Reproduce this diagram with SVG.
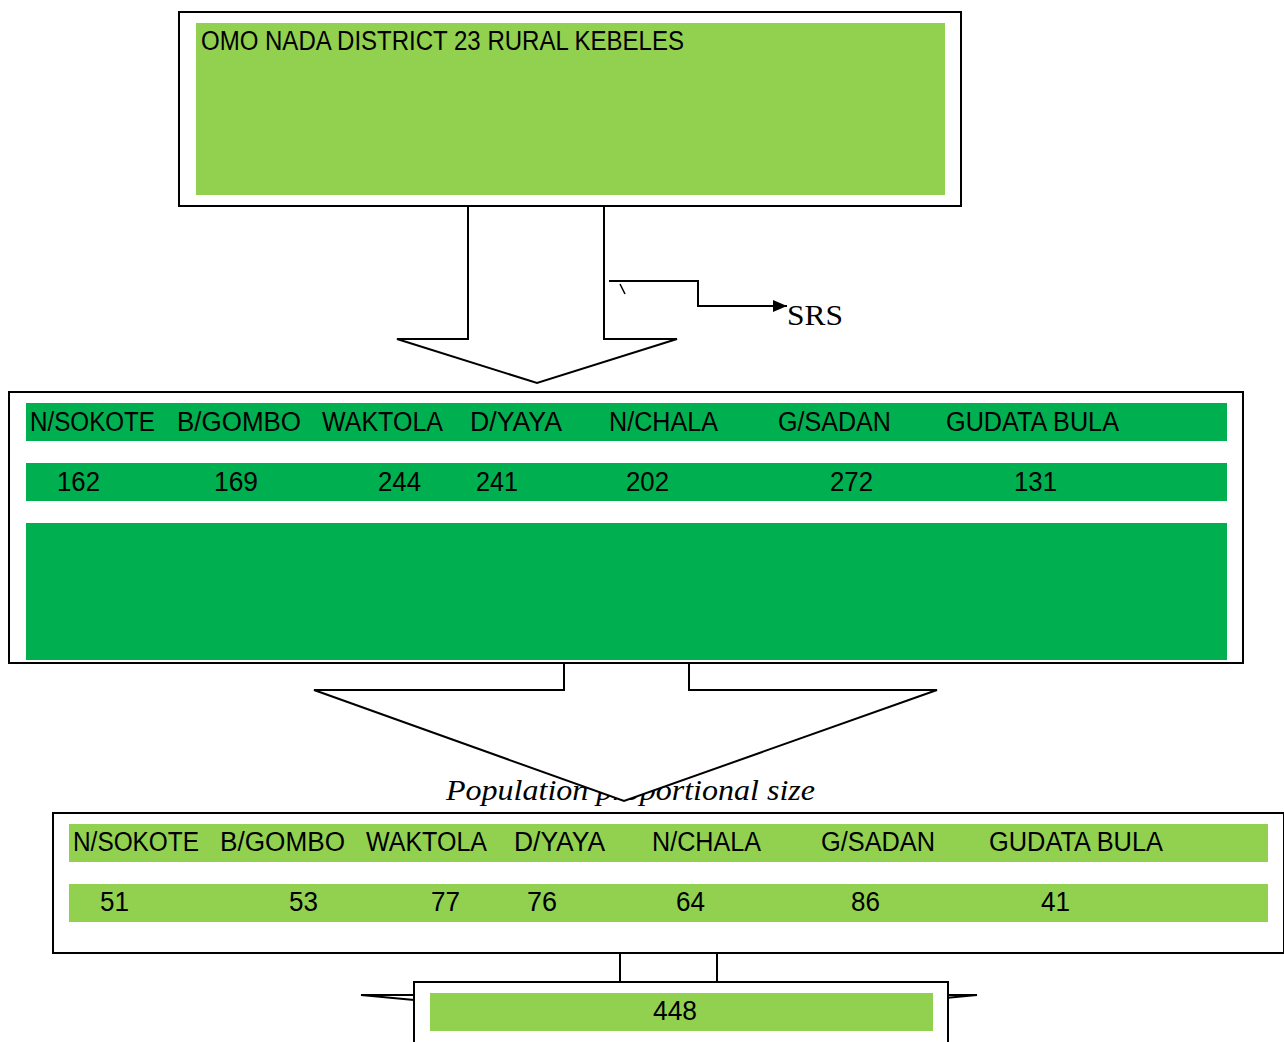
<svg xmlns="http://www.w3.org/2000/svg" width="1284" height="1042" viewBox="0 0 1284 1042">
<style>
.box{fill:#fff;stroke:#000;stroke-width:2}
.lg{fill:#92D050}
.dg{fill:#00B050}
.blk{fill:#fff;stroke:#000;stroke-width:2;stroke-linejoin:miter}
.ln{fill:none;stroke:#000;stroke-width:2}
.t{font-family:"Liberation Sans","Open Sans",sans-serif;font-size:27px;fill:#000}
.s{font-family:"Liberation Serif",serif;fill:#000}
</style>
<defs>
<marker id="ah" markerWidth="14" markerHeight="12" refX="14" refY="6" orient="auto" markerUnits="userSpaceOnUse">
<path d="M0,0 L14,6 L0,12 Z" fill="#000"/>
</marker>
</defs>
<g id="connectors">
<text class="s" x="446" y="800" font-size="29" font-style="italic" textLength="369" lengthAdjust="spacingAndGlyphs">Population proportional size</text>
<polygon class="blk" points="468,206 604,206 604,339 677,339 537,383 397,339 468,339"/>
<polygon class="blk" points="564,663 689,663 689,690 937,690 624,801 314,690 564,690"/>
<polygon class="blk" points="620,953 717,953 717,995 977,995 669,1024 361,995 620,995"/>
<polyline class="ln" points="609,281 698,281 698,306 787,306" marker-end="url(#ah)"/>
<line x1="620" y1="284" x2="625" y2="294" stroke="#000" stroke-width="1.5"/>
<text class="s" x="787" y="325" font-size="30" textLength="56" lengthAdjust="spacingAndGlyphs">SRS</text>
</g>
<g id="district">
<rect class="box" x="179" y="12" width="782" height="194"/>
<rect class="lg" x="196" y="23" width="749" height="172"/>
<text class="t" x="201" y="50" font-size="25" textLength="483" lengthAdjust="spacingAndGlyphs">OMO NADA DISTRICT 23 RURAL KEBELES</text>
</g>
<g id="kebeles">
<rect class="box" x="9" y="392" width="1234" height="271"/>
<rect class="dg" x="26" y="403" width="1201" height="38"/>
<rect class="dg" x="26" y="463" width="1201" height="38"/>
<rect class="dg" x="26" y="523" width="1201" height="137"/>
<g class="t">
<text x="30" y="431" textLength="125" lengthAdjust="spacingAndGlyphs">N/SOKOTE</text>
<text x="177" y="431" textLength="124" lengthAdjust="spacingAndGlyphs">B/GOMBO</text>
<text x="322" y="431" textLength="121" lengthAdjust="spacingAndGlyphs">WAKTOLA</text>
<text x="470" y="431" textLength="92" lengthAdjust="spacingAndGlyphs">D/YAYA</text>
<text x="609" y="431" textLength="109" lengthAdjust="spacingAndGlyphs">N/CHALA</text>
<text x="778" y="431" textLength="113" lengthAdjust="spacingAndGlyphs">G/SADAN</text>
<text x="946" y="431" textLength="173" lengthAdjust="spacingAndGlyphs">GUDATA BULA</text>
<text x="57" y="491" textLength="43" lengthAdjust="spacingAndGlyphs">162</text>
<text x="214" y="491" textLength="44" lengthAdjust="spacingAndGlyphs">169</text>
<text x="378" y="491" textLength="43" lengthAdjust="spacingAndGlyphs">244</text>
<text x="476" y="491" textLength="42" lengthAdjust="spacingAndGlyphs">241</text>
<text x="626" y="491" textLength="43" lengthAdjust="spacingAndGlyphs">202</text>
<text x="830" y="491" textLength="43" lengthAdjust="spacingAndGlyphs">272</text>
<text x="1014" y="491" textLength="43" lengthAdjust="spacingAndGlyphs">131</text>
</g>
</g>
<g id="samples">
<rect class="box" x="53" y="813" width="1231" height="140"/>
<rect class="lg" x="69" y="824" width="1199" height="38"/>
<rect class="lg" x="69" y="884" width="1199" height="38"/>
<g class="t">
<text x="73" y="851" textLength="126" lengthAdjust="spacingAndGlyphs">N/SOKOTE</text>
<text x="220" y="851" textLength="125" lengthAdjust="spacingAndGlyphs">B/GOMBO</text>
<text x="366" y="851" textLength="121" lengthAdjust="spacingAndGlyphs">WAKTOLA</text>
<text x="514" y="851" textLength="91" lengthAdjust="spacingAndGlyphs">D/YAYA</text>
<text x="652" y="851" textLength="109" lengthAdjust="spacingAndGlyphs">N/CHALA</text>
<text x="821" y="851" textLength="114" lengthAdjust="spacingAndGlyphs">G/SADAN</text>
<text x="989" y="851" textLength="174" lengthAdjust="spacingAndGlyphs">GUDATA BULA</text>
<text x="100" y="911" textLength="29" lengthAdjust="spacingAndGlyphs">51</text>
<text x="289" y="911" textLength="29" lengthAdjust="spacingAndGlyphs">53</text>
<text x="431" y="911" textLength="29" lengthAdjust="spacingAndGlyphs">77</text>
<text x="527" y="911" textLength="30" lengthAdjust="spacingAndGlyphs">76</text>
<text x="676" y="911" textLength="29" lengthAdjust="spacingAndGlyphs">64</text>
<text x="851" y="911" textLength="29" lengthAdjust="spacingAndGlyphs">86</text>
<text x="1041" y="911" textLength="29" lengthAdjust="spacingAndGlyphs">41</text>
</g>
</g>
<g id="total">
<rect class="box" x="414" y="982" width="534" height="70"/>
<rect class="lg" x="430" y="993" width="503" height="38"/>
<text class="t" x="653" y="1020" textLength="44" lengthAdjust="spacingAndGlyphs">448</text>
</g>
</svg>
